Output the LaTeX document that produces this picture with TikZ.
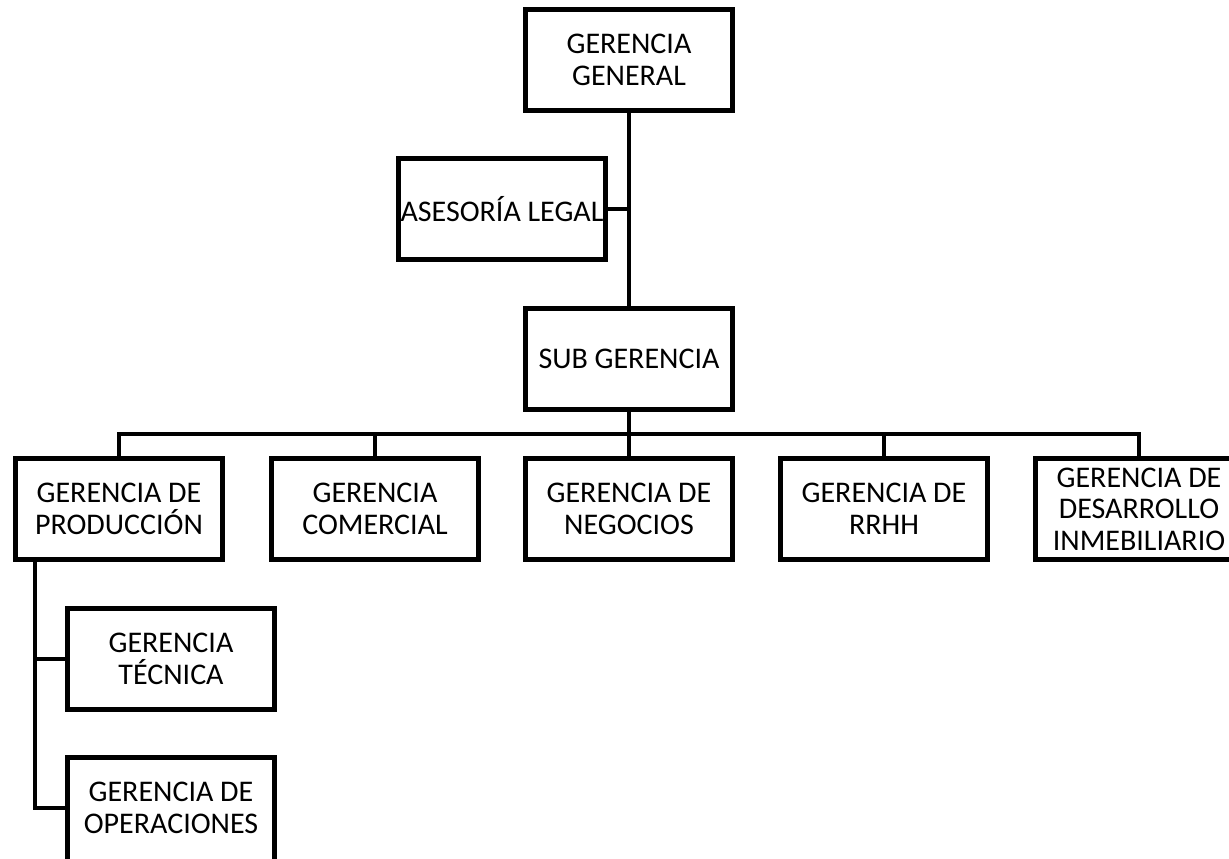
\documentclass[tikz,border=0pt]{standalone}
\usepackage{fontspec}
\setmainfont{Carlito}
\begin{document}
\begin{tikzpicture}[x=1pt,y=-1pt,
  box/.style={draw=black, line width=5pt, minimum width=207pt, minimum height=101pt,
    inner sep=0pt, align=center, fill=white, font=\fontsize{30}{31.5}\selectfont},
  conn/.style={draw=black, line width=4pt}]
\useasboundingbox (0,0) rectangle (1229,859);
\node[box] (GG) at (629,60) {GERENCIA\\GENERAL};
\node[box] (AL) at (502,209) {ASESORÍA LEGAL};
\node[box] (SUB) at (629,359) {SUB GERENCIA};
\node[box] (P) at (119,509) {GERENCIA DE\\PRODUCCIÓN};
\node[box] (C) at (375,509) {GERENCIA\\COMERCIAL};
\node[box] (N) at (629,509) {GERENCIA DE\\NEGOCIOS};
\node[box] (R) at (884,509) {GERENCIA DE\\RRHH};
\node[box] (D) at (1139,509) {GERENCIA DE\\DESARROLLO\\INMEBILIARIO};
\node[box] (T) at (171,659) {GERENCIA\\TÉCNICA};
\node[box, minimum height=121pt, text depth=20pt] (O) at (171,818) {GERENCIA DE\\OPERACIONES};
\coordinate (bus) at (629,434);
\coordinate (lv) at (35,0);
\coordinate (ob) at (0,808);
\draw[conn] (GG.south) -- (SUB.north);
\draw[conn] (AL.east) -- (AL.east -| GG.south);
\draw[conn] (SUB.south) -- (N.north);
\draw[conn] (P.north) |- (bus) -| (D.north);
\draw[conn] (C.north) -- (C.north |- bus);
\draw[conn] (R.north) -- (R.north |- bus);
\draw[conn] (P.south -| lv) |- (O.west |- ob);
\draw[conn] (T.west) -- (T.west -| lv);
\end{tikzpicture}
\end{document}
